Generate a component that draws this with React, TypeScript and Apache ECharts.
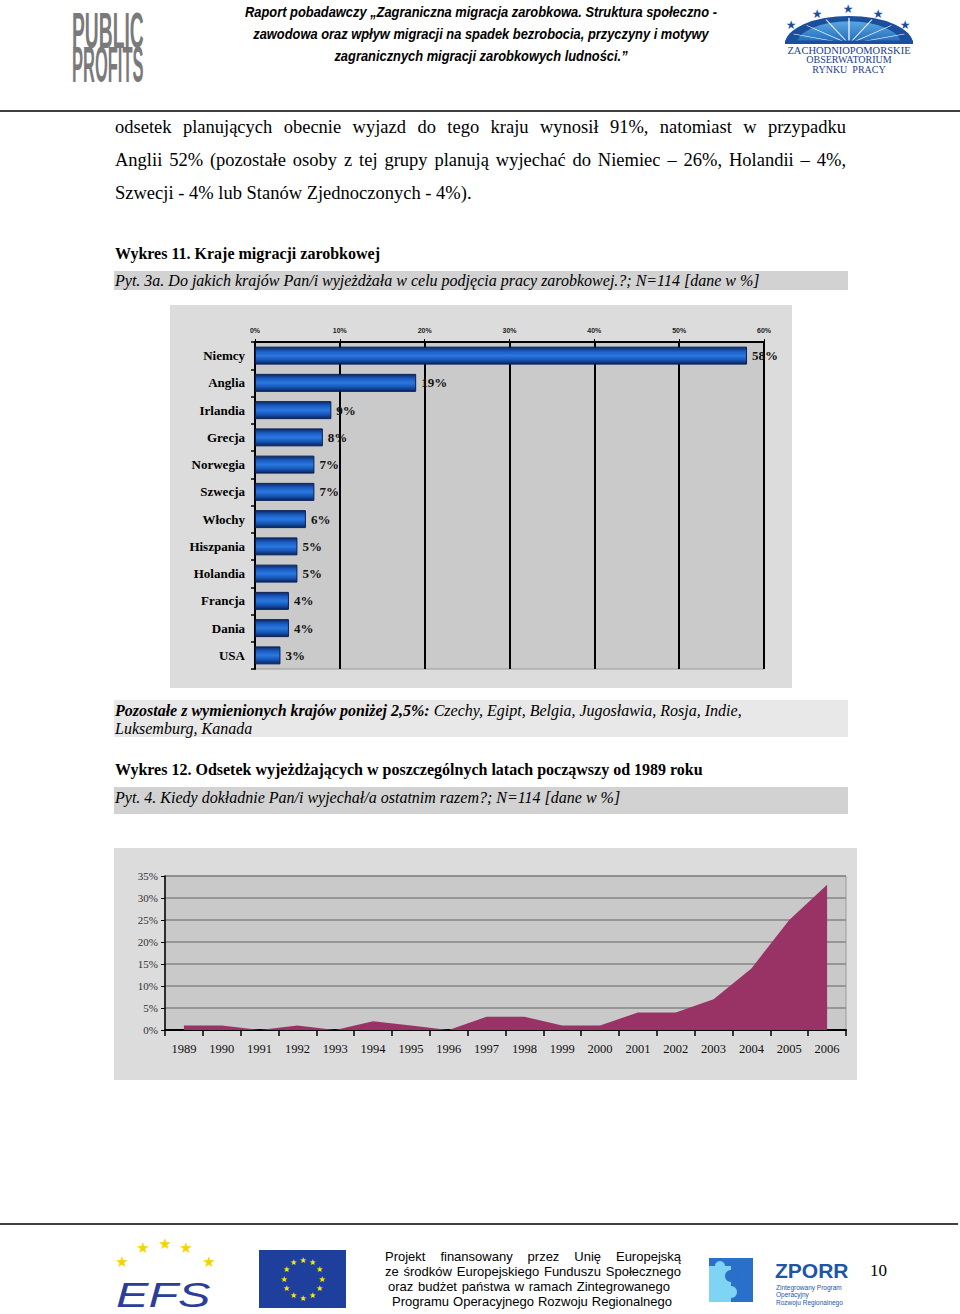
import React, { useEffect, useRef } from "react";
import * as echarts from "echarts";

// ---------- data ----------
const countries = ["Niemcy", "Anglia", "Irlandia", "Grecja", "Norwegia", "Szwecja", "Włochy", "Hiszpania", "Holandia", "Francja", "Dania", "USA"];
const countryShares = [58, 19, 9, 8, 7, 7, 6, 5, 5, 4, 4, 3];
const barAxisMin = 0;
const barAxisMax = 60;
const barAxisStep = 10;

const years = ["1989", "1990", "1991", "1992", "1993", "1994", "1995", "1996", "1997", "1998", "1999", "2000", "2001", "2002", "2003", "2004", "2005", "2006"];
const yearShares = [1, 1, 0, 1, 0, 2, 1, 0, 3, 3, 1, 1, 4, 4, 7, 14, 25, 33];
const areaAxisMin = 0;
const areaAxisMax = 35;
const areaAxisStep = 5;

const headerLines = [
  "Raport pobadawczy „Zagraniczna migracja zarobkowa. Struktura społeczno -",
  "zawodowa oraz wpływ migracji na spadek bezrobocia, przyczyny i motywy",
  "zagranicznych migracji zarobkowych ludności.”",
];
const paragraphLines = [
  "odsetek planujących obecnie wyjazd do tego kraju wynosił 91%, natomiast w przypadku",
  "Anglii 52% (pozostałe osoby z tej grupy planują wyjechać do Niemiec – 26%, Holandii – 4%,",
  "Szwecji - 4% lub Stanów Zjednoczonych - 4%).",
];
const chart1Title = "Wykres 11. Kraje migracji zarobkowej";
const chart1Question = "Pyt. 3a. Do jakich krajów Pan/i wyjeżdżała w celu podjęcia pracy zarobkowej.?; N=114 [dane w %]";
const othersLead = "Pozostałe z wymienionych krajów poniżej 2,5%:";
const othersRest = " Czechy, Egipt, Belgia, Jugosławia, Rosja, Indie,";
const othersLine2 = "Luksemburg, Kanada";
const chart2Title = "Wykres 12. Odsetek wyjeżdżających w poszczególnych latach począwszy od 1989 roku";
const chart2Question = "Pyt. 4. Kiedy dokładnie Pan/i wyjechał/a ostatnim razem?; N=114 [dane w %]";
const footerLines = [
  "Projekt finansowany przez Unię Europejską",
  "ze środków Europejskiego Funduszu Społecznego",
  "oraz budżet państwa w ramach Zintegrowanego",
  "Programu Operacyjnego Rozwoju Regionalnego",
];
const logoRightLines = ["ZACHODNIOPOMORSKIE", "OBSERWATORIUM", "RYNKU  PRACY"];
const zporrLines = ["Zintegrowany Program", "Operacyjny", "Rozwoju Regionalnego"];
const pageNumber = "10";

const SERIF = "'Liberation Serif', 'Times New Roman', serif";
const SANS = "'Liberation Sans', Arial, sans-serif";
const NARROW = "'Liberation Sans Narrow', 'Arial Narrow', 'Liberation Sans', sans-serif";

let measureCtx: CanvasRenderingContext2D | null = null;
function measure(text: string, font: string) {
  if (!measureCtx) measureCtx = document.createElement("canvas").getContext("2d");
  if (!measureCtx) return text.length * 8;
  measureCtx.font = font;
  return measureCtx.measureText(text).width;
}

function txt(x: number, y: number, text: string, o: any = {}) {
  return {
    type: "text",
    x,
    y,
    z: 50,
    scaleX: o.scaleX ?? 1,
    scaleY: o.scaleY ?? 1,
    style: {
      text,
      fontSize: o.size ?? 16,
      fontFamily: o.family ?? SERIF,
      fontWeight: o.weight ?? "normal",
      fontStyle: o.style ?? "normal",
      fill: o.color ?? "#000",
      align: o.align ?? "left",
      textAlign: o.align ?? "left",
      verticalAlign: o.valign ?? "middle",
      textVerticalAlign: o.valign ?? "middle",
      rich: o.rich,
    },
  };
}

// place the words of a line so that it fills [x0, x1]
function justified(line: string, x0: number, x1: number, y: number, o: any = {}) {
  const words = line.split(" ").filter((w) => w.length);
  const font = `${o.style ?? "normal"} ${o.weight ?? "normal"} ${o.size ?? 16}px ${o.family ?? SERIF}`;
  const widths = words.map((w) => measure(w, font));
  const total = widths.reduce((a, b) => a + b, 0);
  const gap = words.length > 1 ? (x1 - x0 - total) / (words.length - 1) : 0;
  const out: any[] = [];
  let x = x0;
  words.forEach((w, i) => {
    out.push(txt(x, y, w, o));
    x += widths[i] + gap;
  });
  return out;
}

function rect(x: number, y: number, w: number, h: number, fill: string, z = -10) {
  return { type: "rect", z, shape: { x, y, width: w, height: h }, style: { fill } };
}

function buildGraphics() {
  const g: any[] = [];
  // panels
  g.push(rect(170, 305, 622, 383, "#dcdcdc", -20));
  g.push(rect(114, 848, 743, 232, "#dcdcdc", -20));
  g.push(rect(114, 271, 734, 19, "#d2d2d2", -20));
  g.push(rect(114, 700, 734, 37, "#e8e8e8", -20));
  g.push(rect(114, 787, 734, 27, "#d2d2d2", -20));

  // rules
  g.push({ type: "line", z: 5, shape: { x1: 0, y1: 111, x2: 960, y2: 111 }, style: { stroke: "#000", lineWidth: 1.5 } });
  g.push({ type: "line", z: 5, shape: { x1: 0, y1: 1224, x2: 958, y2: 1224 }, style: { stroke: "#000", lineWidth: 1.5 } });

  // header
  headerLines.forEach((t, i) =>
    g.push(txt(481, 12 + i * 22, t, { size: 14, family: NARROW, weight: "bold", style: "italic", align: "center", scaleX: 0.92 }))
  );

  // PUBLIC PROFITS logo
  g.push(txt(72, 6, "PUBLIC", { size: 50, family: NARROW, weight: "bold", color: "#7a7a7a", valign: "top", scaleX: 0.385 }));
  g.push(txt(72, 40, "PROFITS", { size: 50, family: NARROW, weight: "bold", color: "#7a7a7a", valign: "top", scaleX: 0.33 }));

  // right logo dome
  const domeChildren: any[] = [
    { type: "sector", shape: { cx: 0, cy: 0, r: 64, r0: 0, startAngle: Math.PI, endAngle: Math.PI * 2 }, style: { fill: "#1b4f9e" } },
    {
      type: "sector",
      shape: { cx: 0, cy: 0, r: 52, r0: 0, startAngle: Math.PI, endAngle: Math.PI * 2 },
      style: {
        fill: new echarts.graphic.LinearGradient(0, 0, 0, 1, [
          { offset: 0, color: "#5aa6e0" },
          { offset: 1, color: "#1e66b8" },
        ]),
      },
    },
  ];
  for (let k = 1; k < 8; k++) {
    const a = Math.PI + (k * Math.PI) / 8;
    domeChildren.push({ type: "line", shape: { x1: 0, y1: 0, x2: 60 * Math.cos(a), y2: 60 * Math.sin(a) }, style: { stroke: "#ffffff", lineWidth: 1.2 } });
  }
  domeChildren.push({ type: "rect", shape: { x: -64, y: -8, width: 128, height: 8 }, style: { fill: "#1b4f9e" } });
  g.push({ type: "group", x: 849, y: 44, scaleY: 28 / 64, z: 10, children: domeChildren });
  [[791, 25], [817, 14], [848, 9], [878, 14], [905, 25]].forEach(([sx, sy]) =>
    g.push(txt(sx, sy, "★", { size: 12, family: "'DejaVu Sans', sans-serif", color: "#1b4f9e", align: "center" }))
  );
  logoRightLines.forEach((t, i) => g.push(txt(849, 50 + i * 9.5, t, { size: i === 0 ? 10.5 : 10, family: SERIF, color: "#233d8c", align: "center" })));

  // paragraph (justified like the source document)
  g.push(...justified(paragraphLines[0], 115, 846, 127, { size: 18.5 }));
  g.push(...justified(paragraphLines[1], 115, 846, 160, { size: 18.5 }));
  g.push(txt(115, 193, paragraphLines[2], { size: 18.5 }));

  // captions
  g.push(txt(115, 253, chart1Title, { size: 16, weight: "bold" }));
  g.push(txt(115, 280, chart1Question, { size: 16, style: "italic" }));
  g.push(
    txt(115, 710, `{b|${othersLead}}{i|${othersRest}}`, {
      size: 16,
      style: "italic",
      rich: {
        b: { fontFamily: SERIF, fontSize: 16, fontWeight: "bold", fontStyle: "italic", fill: "#000" },
        i: { fontFamily: SERIF, fontSize: 16, fontStyle: "italic", fill: "#000" },
      },
    })
  );
  g.push(txt(115, 728, othersLine2, { size: 16, style: "italic" }));
  g.push(txt(115, 769, chart2Title, { size: 16, weight: "bold" }));
  g.push(txt(115, 797, chart2Question, { size: 16, style: "italic" }));

  // footer: EFS logo
  [[122, 1262], [143, 1248], [165, 1244], [186, 1248], [209, 1262]].forEach(([sx, sy]) =>
    g.push(txt(sx, sy, "★", { size: 15, family: "'DejaVu Sans', sans-serif", color: "#f2d500", align: "center" }))
  );
  g.push(txt(116, 1294, "EFS", { size: 36, family: SANS, style: "italic", color: "#2b3e9a", scaleX: 1.35 }));

  // EU flag
  g.push(rect(259, 1250, 87, 58, "#1f3f9c", 5));
  for (let k = 0; k < 12; k++) {
    const a = (k * Math.PI) / 6;
    g.push(txt(303 + 19 * Math.cos(a), 1279 + 19 * Math.sin(a), "★", { size: 8, family: "'DejaVu Sans', sans-serif", color: "#ffe600", align: "center" }));
  }

  // footer text
  const footerSpans = [
    [385, 681],
    [385, 681],
    [388, 670],
    [392, 672],
  ];
  footerLines.forEach((t, i) => g.push(...justified(t, footerSpans[i][0], footerSpans[i][1], 1256 + i * 15, { size: 13, family: SANS })));

  // ZPORR puzzle
  g.push(rect(709, 1258, 22, 44, "#7fd3f3", 5));
  g.push(rect(731, 1258, 22, 44, "#2a6fc9", 5));
  g.push(rect(709, 1258, 44, 8, "#2a6fc9", 5));
  g.push({ type: "circle", z: 6, shape: { cx: 731, cy: 1276, r: 6 }, style: { fill: "#2a6fc9" } });
  g.push({ type: "circle", z: 6, shape: { cx: 731, cy: 1292, r: 6 }, style: { fill: "#7fd3f3" } });
  g.push({ type: "circle", z: 6, shape: { cx: 720, cy: 1266, r: 5 }, style: { fill: "#7fd3f3" } });
  g.push(txt(775, 1270, "ZPORR", { size: 21, family: SANS, weight: "bold", color: "#1d56a6" }));
  zporrLines.forEach((t, i) => g.push(txt(776, 1287 + i * 7.5, t, { size: 6.5, family: SANS, color: "#1d56a6" })));
  g.push(txt(870, 1270, pageNumber, { size: 17, family: SERIF }));
  return g;
}

export default function App() {
  const ref = useRef<HTMLDivElement>(null);
  useEffect(() => {
    if (!ref.current) return;
    const chart = echarts.init(ref.current, null, { renderer: "svg" });
    const barGradient = new echarts.graphic.LinearGradient(0, 0, 0, 1, [
      { offset: 0, color: "#0a2a68" },
      { offset: 0.25, color: "#1a5cc2" },
      { offset: 0.5, color: "#2a78e0" },
      { offset: 0.75, color: "#1656b6" },
      { offset: 1, color: "#09245c" },
    ]);
    chart.setOption({
      animation: false,
      backgroundColor: "#ffffff",
      grid: [
        { left: 255, right: 960 - 764, top: 342, bottom: 1314 - 669, show: true, backgroundColor: "#cacaca", borderColor: "#9a9a9a", borderWidth: 1 },
        { left: 165, right: 960 - 846, top: 876, bottom: 1314 - 1030, show: true, backgroundColor: "#c9c9c9", borderColor: "#9a9a9a", borderWidth: 1 },
      ],
      xAxis: [
        {
          gridIndex: 0,
          type: "value",
          position: "top",
          min: barAxisMin,
          max: barAxisMax,
          interval: barAxisStep,
          axisLine: { show: true, lineStyle: { color: "#000", width: 2 } },
          axisTick: { show: true, length: 3, lineStyle: { color: "#000" } },
          axisLabel: { formatter: "{value}%", fontSize: 7, fontWeight: "bold", fontFamily: SANS, color: "#222", margin: 8 },
          splitLine: { show: true, lineStyle: { color: "#000", width: 2 } },
        },
        {
          gridIndex: 1,
          type: "category",
          data: years,
          boundaryGap: true,
          axisLine: { show: true, lineStyle: { color: "#000", width: 2 } },
          axisTick: { show: true, length: 6, lineStyle: { color: "#000", width: 1.5 } },
          axisLabel: { fontSize: 12.5, fontFamily: SERIF, color: "#111", margin: 12 },
          splitLine: { show: false },
        },
      ],
      yAxis: [
        {
          gridIndex: 0,
          type: "category",
          data: countries,
          inverse: true,
          axisLine: { show: true, lineStyle: { color: "#000", width: 2 } },
          axisTick: { show: true, length: 4, lineStyle: { color: "#000", width: 1.5 } },
          axisLabel: { fontSize: 13, fontWeight: "bold", fontFamily: SERIF, color: "#000", margin: 10 },
        },
        {
          gridIndex: 1,
          type: "value",
          min: areaAxisMin,
          max: areaAxisMax,
          interval: areaAxisStep,
          axisLine: { show: true, lineStyle: { color: "#000", width: 1.5 } },
          axisTick: { show: true, length: 4, lineStyle: { color: "#000" } },
          axisLabel: { formatter: "{value}%", fontSize: 11, fontFamily: SERIF, color: "#333", margin: 7 },
          splitLine: { show: true, lineStyle: { color: "#858585", width: 1.5 } },
        },
      ],
      series: [
        {
          type: "bar",
          xAxisIndex: 0,
          yAxisIndex: 0,
          data: countryShares,
          barCategoryGap: "34%",
          itemStyle: { color: barGradient, borderColor: "#0a1f55", borderWidth: 1 },
          label: { show: true, position: "right", distance: 5, formatter: "{c}%", fontFamily: SERIF, fontWeight: "bold", fontSize: 13, color: "#111" },
        },
        {
          type: "line",
          xAxisIndex: 1,
          yAxisIndex: 1,
          data: yearShares,
          symbol: "none",
          lineStyle: { width: 0 },
          areaStyle: { color: "#993366", opacity: 1 },
        },
      ],
      graphic: buildGraphics(),
    });
    return () => chart.dispose();
  }, []);
  return <div ref={ref} style={{ position: "absolute", left: 0, top: 0, width: 960, height: 1314 }} />;
}
